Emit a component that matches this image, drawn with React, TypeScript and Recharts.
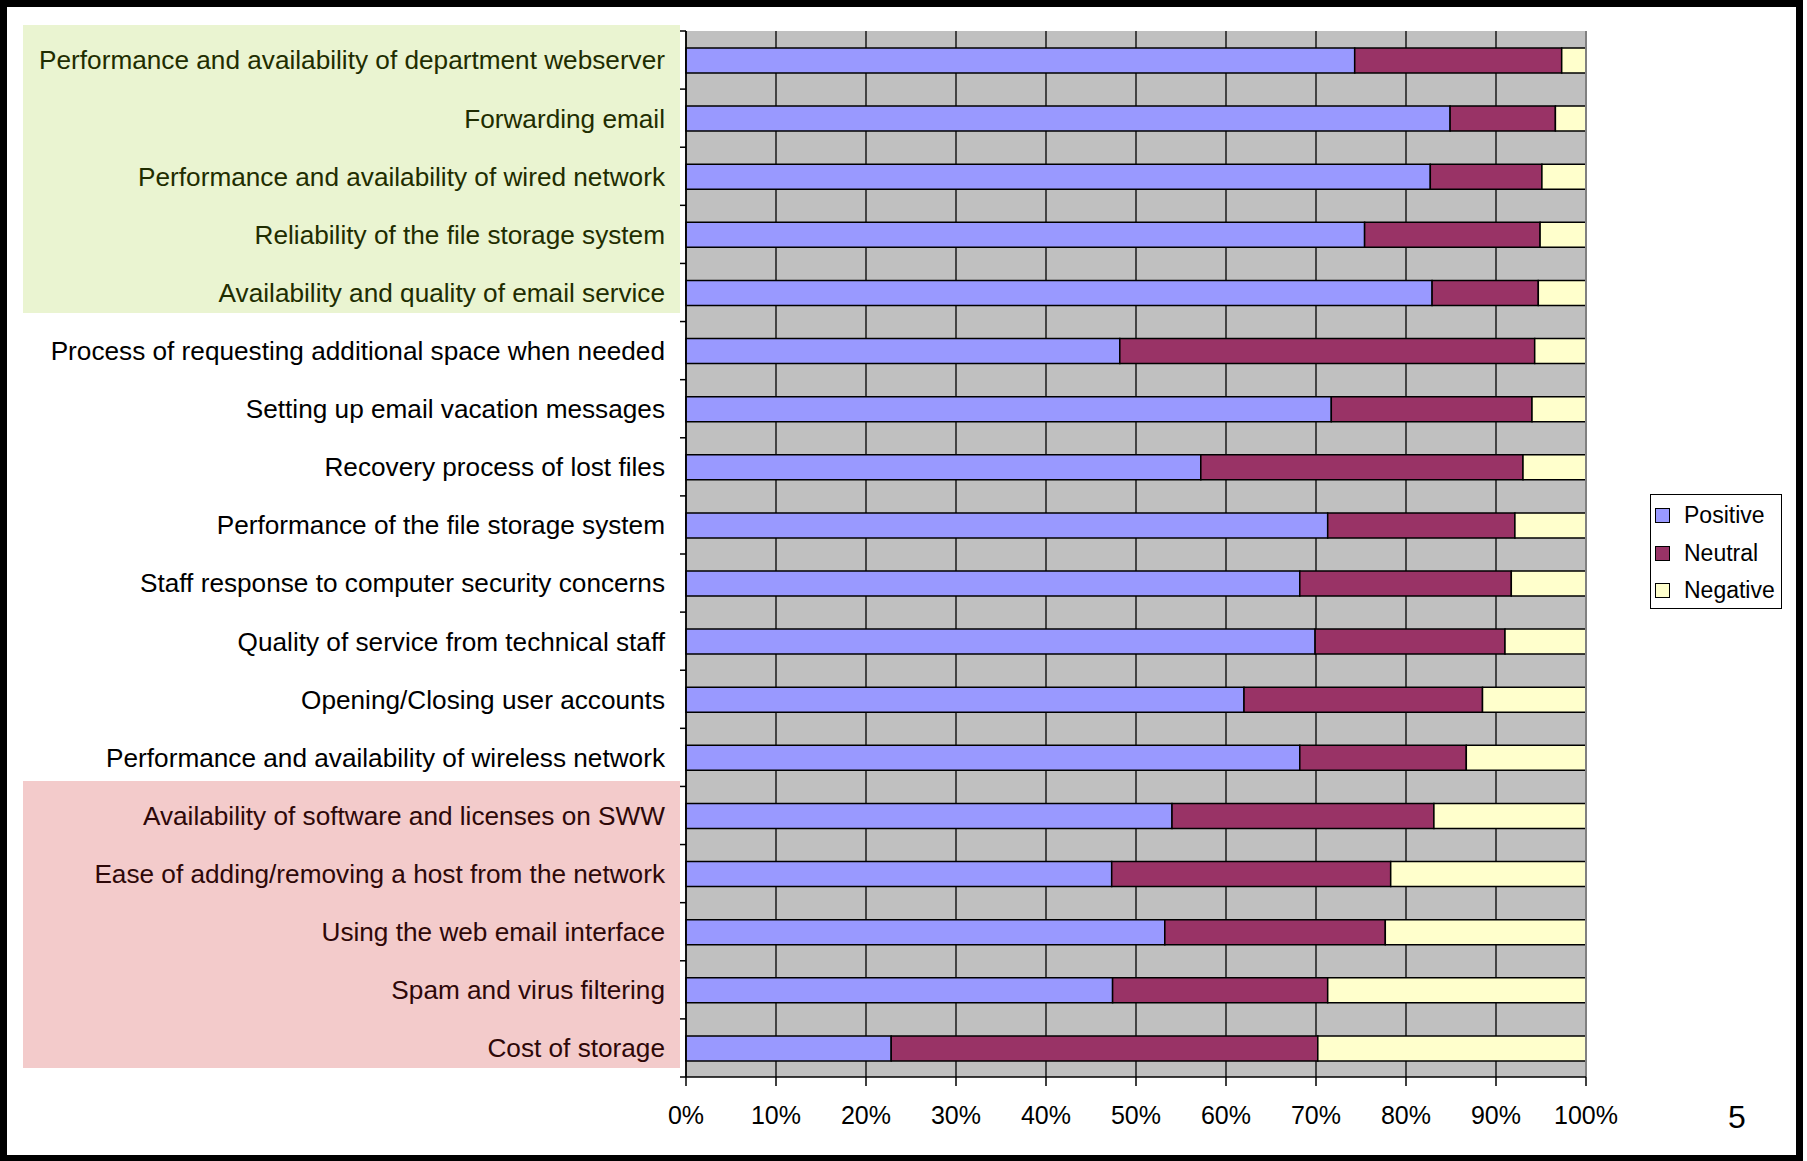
import React from 'react';
import { BarChart, Bar, XAxis, YAxis, CartesianGrid, Legend, ReferenceLine } from 'recharts';

const categories = [
  'Performance and availability of department webserver',
  'Forwarding email',
  'Performance and availability of wired network',
  'Reliability of the file storage system',
  'Availability and quality of email service',
  'Process of requesting additional space when needed',
  'Setting up email vacation messages',
  'Recovery process of lost files',
  'Performance of the file storage system',
  'Staff response to computer security concerns',
  'Quality of service from technical staff',
  'Opening/Closing user accounts',
  'Performance and availability of wireless network',
  'Availability of software and licenses on SWW',
  'Ease of adding/removing a host from the network',
  'Using the web email interface',
  'Spam and virus filtering',
  'Cost of storage',
];

const positive = [74.3, 84.9, 82.7, 75.4, 82.9, 48.2, 71.7, 57.2, 71.3, 68.2, 69.9, 62.0, 68.2, 54.0, 47.3, 53.2, 47.4, 22.8];
const neutral = [23.0, 11.7, 12.4, 19.5, 11.8, 46.1, 22.3, 35.8, 20.8, 23.5, 21.1, 26.5, 18.5, 29.1, 31.0, 24.5, 23.9, 47.4];
const negative = [2.7, 3.4, 4.9, 5.1, 5.3, 5.7, 6.0, 7.0, 7.9, 8.3, 9.0, 11.5, 13.3, 16.9, 21.7, 22.3, 28.7, 29.8];

const highlight = ['good', 'good', 'good', 'good', 'good', '', '', '', '', '', '', '', '', 'bad', 'bad', 'bad', 'bad', 'bad'];

const xTicks = [0, 10, 20, 30, 40, 50, 60, 70, 80, 90, 100];
const seriesNames = ['Positive', 'Neutral', 'Negative'];
const seriesColors = ['#9999FF', '#993366', '#FFFFCC'];
const pageNumber = '5';

const data = categories.map((name, i) => ({
  name,
  Positive: positive[i],
  Neutral: neutral[i],
  Negative: negative[i],
}));

const FONT = "'Liberation Sans', Arial, Helvetica, sans-serif";
const W = 1807;
const H = 1161;
const X_HEIGHT = 84;
const MARGIN = { top: 31, right: 221, bottom: 0, left: 0 };
const Y_WIDTH = 686;
const PLOT_H = H - MARGIN.top - X_HEIGHT;
const Y_TICK_SIZE = 6;
const Y_TICK_MARGIN = 15;
const BOX_LEFT = 23;
const GREEN = '#EAF4D1';
const RED = '#F3CBCB';

const YTick = (props: any) => {
  const { x, y, payload } = props;
  const idx = categories.indexOf(payload.value);
  const band = PLOT_H / categories.length;
  const axisX = x + Y_TICK_SIZE + Y_TICK_MARGIN;
  const g = highlight[idx];
  const fill = g === 'good' ? GREEN : g === 'bad' ? RED : null;
  const color = g === 'good' ? '#1f2d00' : g === 'bad' ? '#2e0808' : '#000';
  let rect = null;
  if (fill) {
    const isFirst = highlight[idx - 1] !== g;
    const isLast = highlight[idx + 1] !== g;
    const top = Math.floor(y - band / 2 - (isFirst ? band * 0.09 : 0));
    const bottom = isLast ? Math.round(y + band * 0.35) : Math.ceil(y + band / 2) + 1;
    rect = (
      <rect
        x={BOX_LEFT}
        y={top}
        width={axisX - Y_TICK_SIZE - BOX_LEFT}
        height={bottom - top}
        fill={fill}
        shapeRendering="crispEdges"
      />
    );
  }
  return (
    <g>
      {rect}
      <line x1={axisX - Y_TICK_SIZE} x2={axisX} y1={y - band / 2} y2={y - band / 2} stroke="#000" strokeWidth={1.5} />
      {idx === categories.length - 1 && (
        <line x1={axisX - Y_TICK_SIZE} x2={axisX} y1={y + band / 2} y2={y + band / 2} stroke="#000" strokeWidth={1.5} />
      )}
      <text x={x} y={y} dy="0.36em" textAnchor="end" fontSize={26.2} fill={color} fontFamily={FONT}>
        {payload.value}
      </text>
    </g>
  );
};

const LegendBox = () => (
  <div
    style={{
      border: '1px solid #000',
      background: '#fff',
      width: 132,
      height: 115,
      boxSizing: 'border-box',
      paddingTop: 2,
      fontFamily: FONT,
    }}
  >
    {seriesNames.map((name, i) => (
      <div key={name} style={{ height: 37.5, display: 'flex', alignItems: 'center', paddingLeft: 4 }}>
        <span
          style={{
            width: 15,
            height: 15,
            border: '1px solid #000',
            background: seriesColors[i],
            display: 'inline-block',
            boxSizing: 'border-box',
          }}
        />
        <span style={{ marginLeft: 14, fontSize: 23, color: '#000', lineHeight: '37px' }}>{name}</span>
      </div>
    ))}
  </div>
);

export default function App() {
  return (
    <div style={{ position: 'absolute', left: 0, top: 0, width: W, height: H, background: '#fff', overflow: 'hidden' }}>
      <div
        style={{
          position: 'absolute',
          left: 0,
          top: 0,
          width: 1803,
          height: 1162,
          border: '7px solid #000',
          boxSizing: 'border-box',
        }}
      />
      <div style={{ position: 'absolute', left: 0, top: 0 }}>
        <BarChart width={W} height={H} data={data} layout="vertical" margin={MARGIN}>
          <CartesianGrid horizontal={false} vertical stroke="#000" strokeWidth={1.3} fill="#C0C0C0" />
          <XAxis
            type="number"
            domain={[0, 100]}
            ticks={xTicks}
            interval={0}
            tickFormatter={(v: number) => `${v}%`}
            tickSize={9}
            tickMargin={20}
            axisLine={{ stroke: '#000', strokeWidth: 1.5 }}
            tickLine={{ stroke: '#000', strokeWidth: 1.5 }}
            tick={{ fontSize: 25, fill: '#000', fontFamily: FONT }}
            height={X_HEIGHT}
          />
          <XAxis
            xAxisId="top"
            orientation="top"
            type="number"
            domain={[0, 100]}
            height={0}
            tick={false}
            tickLine={false}
            axisLine={{ stroke: '#808080', strokeWidth: 2 }}
          />
          <YAxis
            type="category"
            dataKey="name"
            width={Y_WIDTH}
            interval={0}
            tickSize={Y_TICK_SIZE}
            tickMargin={Y_TICK_MARGIN}
            tickLine={false}
            axisLine={{ stroke: '#000', strokeWidth: 1.5 }}
            tick={<YTick />}
          />
          <ReferenceLine x={100} stroke="#808080" strokeWidth={2} />
          <Bar dataKey="Positive" stackId="s" fill={seriesColors[0]} stroke="#000" strokeWidth={1.5} barSize={25} isAnimationActive={false} />
          <Bar dataKey="Neutral" stackId="s" fill={seriesColors[1]} stroke="#000" strokeWidth={1.5} barSize={25} isAnimationActive={false} />
          <Bar dataKey="Negative" stackId="s" fill={seriesColors[2]} stroke="#000" strokeWidth={1.5} barSize={25} isAnimationActive={false} />
          <Legend
            layout="vertical"
            align="center"
            verticalAlign="middle"
            content={<LegendBox />}
            wrapperStyle={{ left: 1650, top: 494, width: 132, height: 115 }}
          />
        </BarChart>
      </div>
      <div
        style={{
          position: 'absolute',
          left: 1717,
          top: 1101,
          width: 40,
          textAlign: 'center',
          fontFamily: FONT,
          fontSize: 32,
          lineHeight: '32px',
          color: '#000',
        }}
      >
        {pageNumber}
      </div>
    </div>
  );
}
